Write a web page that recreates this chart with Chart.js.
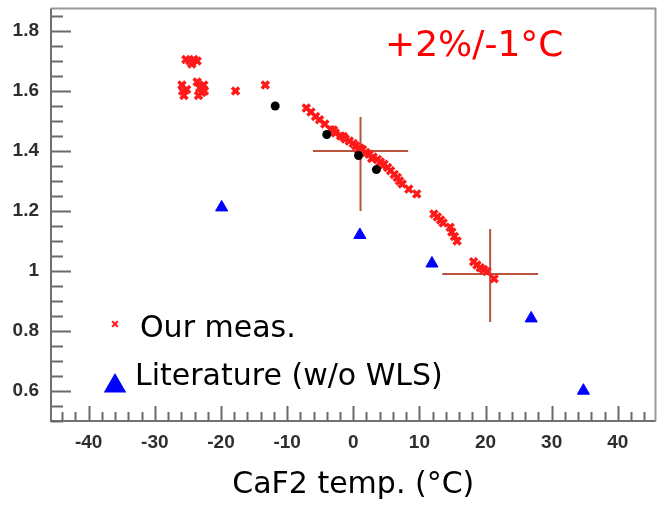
<!DOCTYPE html>
<html>
<head>
<meta charset="utf-8">
<script src="https://cdn.jsdelivr.net/npm/chart.js@4.4.1/dist/chart.umd.min.js"></script>
<style>
  html, body { margin: 0; padding: 0; background: #ffffff; }
  canvas { display: block; }
</style>
</head>
<body>
<canvas id="c" width="664" height="505"></canvas>
<script>
// CaF2 relative light yield versus crystal temperature

// Our measurements (red crosses)
const ourMeasTemp = [
  -25.3, -24.7, -24.1, -23.6, -24.4,
  -25.9, -25.8, -25.6, -25.2,
  -23.6, -23.2, -22.9, -22.6, -23.4, -22.5,
  -17.8, -13.3,
  -7.1, -6.4, -5.7, -5.1, -4.3, -3.4, -2.7, -1.9, -1.2, -0.6,
  0.0, 0.4, 1.0, 1.4, 1.9, 2.4, 3.0, 3.65, 4.1, 4.65, 5.2, 5.65, 6.2, 6.65, 7.0, 7.4, 8.4, 9.6,
  -3.0, -1.5, 0.8, 2.8, 4.4,
  12.2, 12.7, 13.2, 13.6, 14.65, 14.9, 15.3, 15.7,
  18.2, 18.7, 19.2, 19.7, 20.2, 21.3
];
const ourMeasYield = [
  1.705, 1.700, 1.705, 1.700, 1.690,
  1.620, 1.600, 1.585, 1.605,
  1.630, 1.610, 1.595, 1.620, 1.585, 1.600,
  1.600, 1.620,
  1.543, 1.530, 1.515, 1.504, 1.490, 1.471, 1.460, 1.450, 1.440, 1.433,
  1.425, 1.417, 1.410, 1.405, 1.395, 1.389, 1.380, 1.372, 1.363, 1.356, 1.345, 1.334, 1.322, 1.312, 1.300, 1.290, 1.273, 1.257,
  1.470, 1.448, 1.405, 1.375, 1.352,
  1.190, 1.180, 1.170, 1.160, 1.146, 1.130, 1.115, 1.100,
  1.031, 1.020, 1.011, 1.005, 0.998, 0.974
];

// Reference points (black dots)
const refTemp  = [-11.8, -4.0, 0.8, 3.5];
const refYield = [1.550, 1.455, 1.385, 1.338];

// Literature values without WLS (blue triangles)
const litTemp  = [-19.9, 1.0, 11.9, 26.9, 34.8];
const litYield = [1.212, 1.120, 1.025, 0.842, 0.601];

// Error crosses: centre, x half-width, upper and lower y error
const errTemp    = [1.1, 20.7];
const errYield   = [1.400, 0.990];
const errTempErr = [7.2, 7.25];
const errYieldUp = [0.113, 0.150];
const errYieldDn = [0.200, 0.160];

// Axis ticks
const xTickValues = [-40, -30, -20, -10, 0, 10, 20, 30, 40];
const yTickValues = [0.6, 0.8, 1.0, 1.2, 1.4, 1.6, 1.8];
const xMinorStep = 2;
const yMinorStep = 0.05;

const legendLabels = ['Our meas.', 'Literature (w/o WLS)'];
const annotationText = '+2%/-1°C';
const xTitle = 'CaF2 temp. (°C)';

const toPoints = (xs, ys) => xs.map((x, i) => ({ x: x, y: ys[i] }));

const TEXT_FONT = '"DejaVu Sans", "Liberation Sans", sans-serif';
const TICK_FONT = { family: '"Liberation Sans", Arial, sans-serif', size: 19, weight: 'bold' };
const TICK_COLOR = '#6a6a6a';

const noScalePadding = s => { s.paddingTop = 0; s.paddingBottom = 0; s.paddingLeft = 0; s.paddingRight = 0; };

const framePlugin = {
  id: 'framePlugin',
  beforeDatasetsDraw(chart) {
    const ctx = chart.ctx;
    const xs = chart.scales.x, ys = chart.scales.y;
    ctx.save();
    ctx.strokeStyle = '#b9553f';
    ctx.lineWidth = 2;
    for (let i = 0; i < errTemp.length; i++) {
      const cx = xs.getPixelForValue(errTemp[i]);
      const cy = ys.getPixelForValue(errYield[i]);
      ctx.beginPath();
      ctx.moveTo(xs.getPixelForValue(errTemp[i] - errTempErr[i]), cy);
      ctx.lineTo(xs.getPixelForValue(errTemp[i] + errTempErr[i]), cy);
      ctx.moveTo(cx, ys.getPixelForValue(errYield[i] + errYieldUp[i]));
      ctx.lineTo(cx, ys.getPixelForValue(errYield[i] - errYieldDn[i]));
      ctx.stroke();
    }
    ctx.restore();
  },
  afterDraw(chart) {
    const ctx = chart.ctx;
    const a = chart.chartArea;
    const xs = chart.scales.x, ys = chart.scales.y;
    ctx.save();

    // frame
    ctx.strokeStyle = '#9a9a9a';
    ctx.lineWidth = 2;
    ctx.beginPath();
    ctx.moveTo(a.left, a.top);
    ctx.lineTo(a.right, a.top);
    ctx.lineTo(a.right, a.bottom);
    ctx.stroke();
    ctx.strokeStyle = '#707070';
    ctx.beginPath();
    ctx.moveTo(a.left, a.top);
    ctx.lineTo(a.left, a.bottom);
    ctx.lineTo(a.right, a.bottom);
    ctx.stroke();

    // inward ticks
    ctx.strokeStyle = TICK_COLOR;
    ctx.lineWidth = 2;
    ctx.beginPath();
    for (let v = Math.ceil(xs.min / xMinorStep) * xMinorStep; v <= xs.max; v += xMinorStep) {
      const px = Math.round(xs.getPixelForValue(v)) + 0.5;
      const major = Math.abs(v % 10) < 1e-9;
      ctx.moveTo(px, a.bottom);
      ctx.lineTo(px, a.bottom - (major ? 15 : 9));
    }
    for (let k = Math.ceil(ys.min / yMinorStep - 1e-9); k * yMinorStep <= ys.max + 1e-9; k++) {
      const v = k * yMinorStep;
      const py = Math.round(ys.getPixelForValue(v)) + 0.5;
      const major = k % 4 === 0;
      ctx.moveTo(a.left, py);
      ctx.lineTo(a.left + (major ? 20 : 12), py);
    }
    ctx.stroke();

    // legend inside the frame
    const ds = chart.data.datasets;
    ctx.fillStyle = ds[0].borderColor;
    ctx.strokeStyle = ds[0].borderColor;
    Chart.helpers.drawPoint(ctx, { pointStyle: 'crossRot', radius: 4, borderWidth: 3, rotation: 0 }, 115, 324);
    ctx.fillStyle = ds[2].backgroundColor;
    ctx.strokeStyle = ds[2].borderColor;
    Chart.helpers.drawPoint(ctx, { pointStyle: 'triangle', radius: 11, borderWidth: 1, rotation: 0 }, 115, 386);

    ctx.fillStyle = '#000000';
    ctx.font = '30px ' + TEXT_FONT;
    ctx.textAlign = 'left';
    ctx.textBaseline = 'alphabetic';
    ctx.fillText(legendLabels[0], 140, 337);
    ctx.fillText(legendLabels[1], 135, 385);

    // annotation
    ctx.fillStyle = '#ff0000';
    ctx.font = '36px ' + TEXT_FONT;
    ctx.textBaseline = 'middle';
    ctx.fillText(annotationText, 385, 47);
    ctx.restore();
  }
};

new Chart(document.getElementById('c'), {
  type: 'scatter',
  data: {
    datasets: [
      {
        label: legendLabels[0],
        data: toPoints(ourMeasTemp, ourMeasYield),
        pointStyle: 'crossRot',
        pointRadius: 5,
        pointBorderWidth: 3.5,
        borderColor: '#ff1a1a',
        backgroundColor: '#ff1a1a',
        order: 3
      },
      {
        label: 'ref',
        data: toPoints(refTemp, refYield),
        pointStyle: 'circle',
        pointRadius: 4.5,
        pointBorderWidth: 0,
        borderColor: '#000000',
        backgroundColor: '#000000',
        order: 1
      },
      {
        label: legendLabels[1],
        data: toPoints(litTemp, litYield),
        pointStyle: 'triangle',
        pointRadius: 7,
        pointBorderWidth: 1,
        borderColor: '#0000ff',
        backgroundColor: '#0000ff',
        order: 2
      }
    ]
  },
  options: {
    responsive: false,
    animation: false,
    events: [],
    layout: { padding: { top: 6, right: 4, left: 0, bottom: 0 } },
    plugins: { legend: { display: false }, tooltip: { enabled: false } },
    scales: {
      x: {
        type: 'linear',
        min: -45.7,
        max: 45.7,
        afterBuildTicks: s => { s.ticks = xTickValues.map(v => ({ value: v })); },
        afterFit: s => { s.height = 84; noScalePadding(s); },
        grid: { display: false },
        border: { display: false },
        ticks: {
          padding: 2,
          maxRotation: 0,
          autoSkip: false,
          color: '#2e2e2e',
          font: TICK_FONT,
          callback: v => String(v)
        },
        title: {
          display: true,
          text: xTitle,
          color: '#000000',
          font: { family: TEXT_FONT, size: 30 },
          padding: { top: 0, bottom: 2 }
        }
      },
      y: {
        type: 'linear',
        min: 0.5,
        max: 1.875,
        afterBuildTicks: s => { s.ticks = yTickValues.map(v => ({ value: v })); },
        afterFit: s => { s.width = 51; noScalePadding(s); },
        grid: { display: false },
        border: { display: false },
        ticks: {
          padding: 4,
          autoSkip: false,
          color: '#2e2e2e',
          font: TICK_FONT,
          callback: v => String(Math.round(v * 10) / 10)
        }
      }
    }
  },
  plugins: [framePlugin]
});
</script>
</body>
</html>
